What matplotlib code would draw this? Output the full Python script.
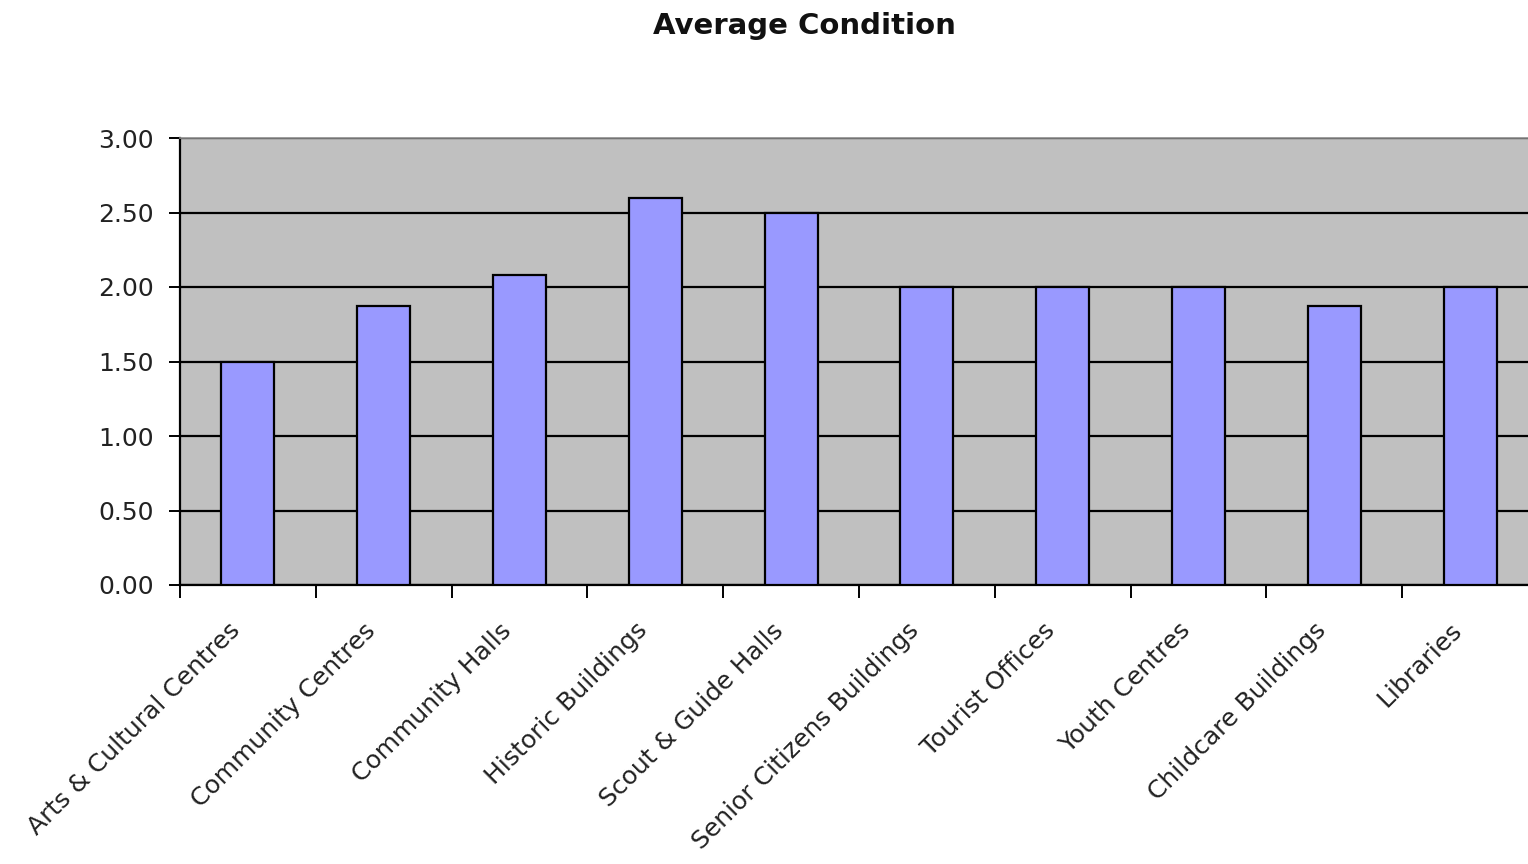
import matplotlib
matplotlib.use("Agg")
import matplotlib.pyplot as plt
import matplotlib.transforms as mtransforms
import numpy as np

categories = [
    "Arts & Cultural Centres",
    "Community Centres",
    "Community Halls",
    "Historic Buildings",
    "Scout & Guide Halls",
    "Senior Citizens Buildings",
    "Tourist Offices",
    "Youth Centres",
    "Childcare Buildings",
    "Libraries",
]
avg_condition = [1.50, 1.87, 2.08, 2.60, 2.50, 2.00, 2.00, 2.00, 1.87, 2.00]
y_ticks = [0.0, 0.5, 1.0, 1.5, 2.0, 2.5, 3.0]
title = "Average Condition"

W, H = 1528, 864
fig = plt.figure(figsize=(W / 100, H / 100), dpi=100)
fig.patch.set_facecolor("white")

# Plot area runs slightly past the right edge of the canvas
left, right, bottom, top = 180, 1538, 585, 138
ax = fig.add_axes([left / W, 1 - bottom / H, (right - left) / W, (bottom - top) / H])
ax.set_facecolor("#C0C0C0")

x = np.arange(len(categories))
ax.bar(x, avg_condition, width=0.39, color="#9999FF", edgecolor="#000000",
       linewidth=1.6, zorder=3)

ax.set_xlim(-0.5, len(categories) - 0.5)
ax.set_ylim(0, 3.0)

ax.set_yticks(y_ticks)
ax.set_yticklabels([f"{v:.2f}" for v in y_ticks], fontsize=18,
                   family="DejaVu Sans", color="#222222")
ax.yaxis.grid(True, color="#000000", linewidth=1.6, zorder=1)
ax.set_axisbelow(True)
ax.tick_params(axis="y", length=8, width=1.4, color="#000000", pad=11)

# Tick marks between categories, labels at category centres
ax.set_xticks(np.arange(len(categories) + 1) - 0.5)
ax.set_xticklabels([])
ax.tick_params(axis="x", which="major", length=9, width=1.4, color="#000000")
ax.set_xticks(x, minor=True)
ax.set_xticklabels(categories, minor=True, rotation=45, ha="right",
                   va="top", rotation_mode="anchor", fontsize=18,
                   family="DejaVu Sans", color="#222222")
ax.tick_params(axis="x", which="minor", length=0, pad=24)

shift = mtransforms.ScaledTranslation(-20 / 100, 0, fig.dpi_scale_trans)
for lbl in ax.get_xticklabels(minor=True):
    lbl.set_transform(lbl.get_transform() + shift)

for side in ("left", "bottom"):
    ax.spines[side].set_color("#000000")
    ax.spines[side].set_linewidth(1.6)
ax.spines["top"].set_color("#8c8c8c")
ax.spines["top"].set_linewidth(1.2)
ax.spines["right"].set_visible(False)

fig.text(804 / W, 1 - 26 / H, title, ha="center", va="center",
         fontsize=21, fontweight="bold", family="DejaVu Sans", color="#111111")

fig.savefig("out.png", dpi=100, facecolor="white")
